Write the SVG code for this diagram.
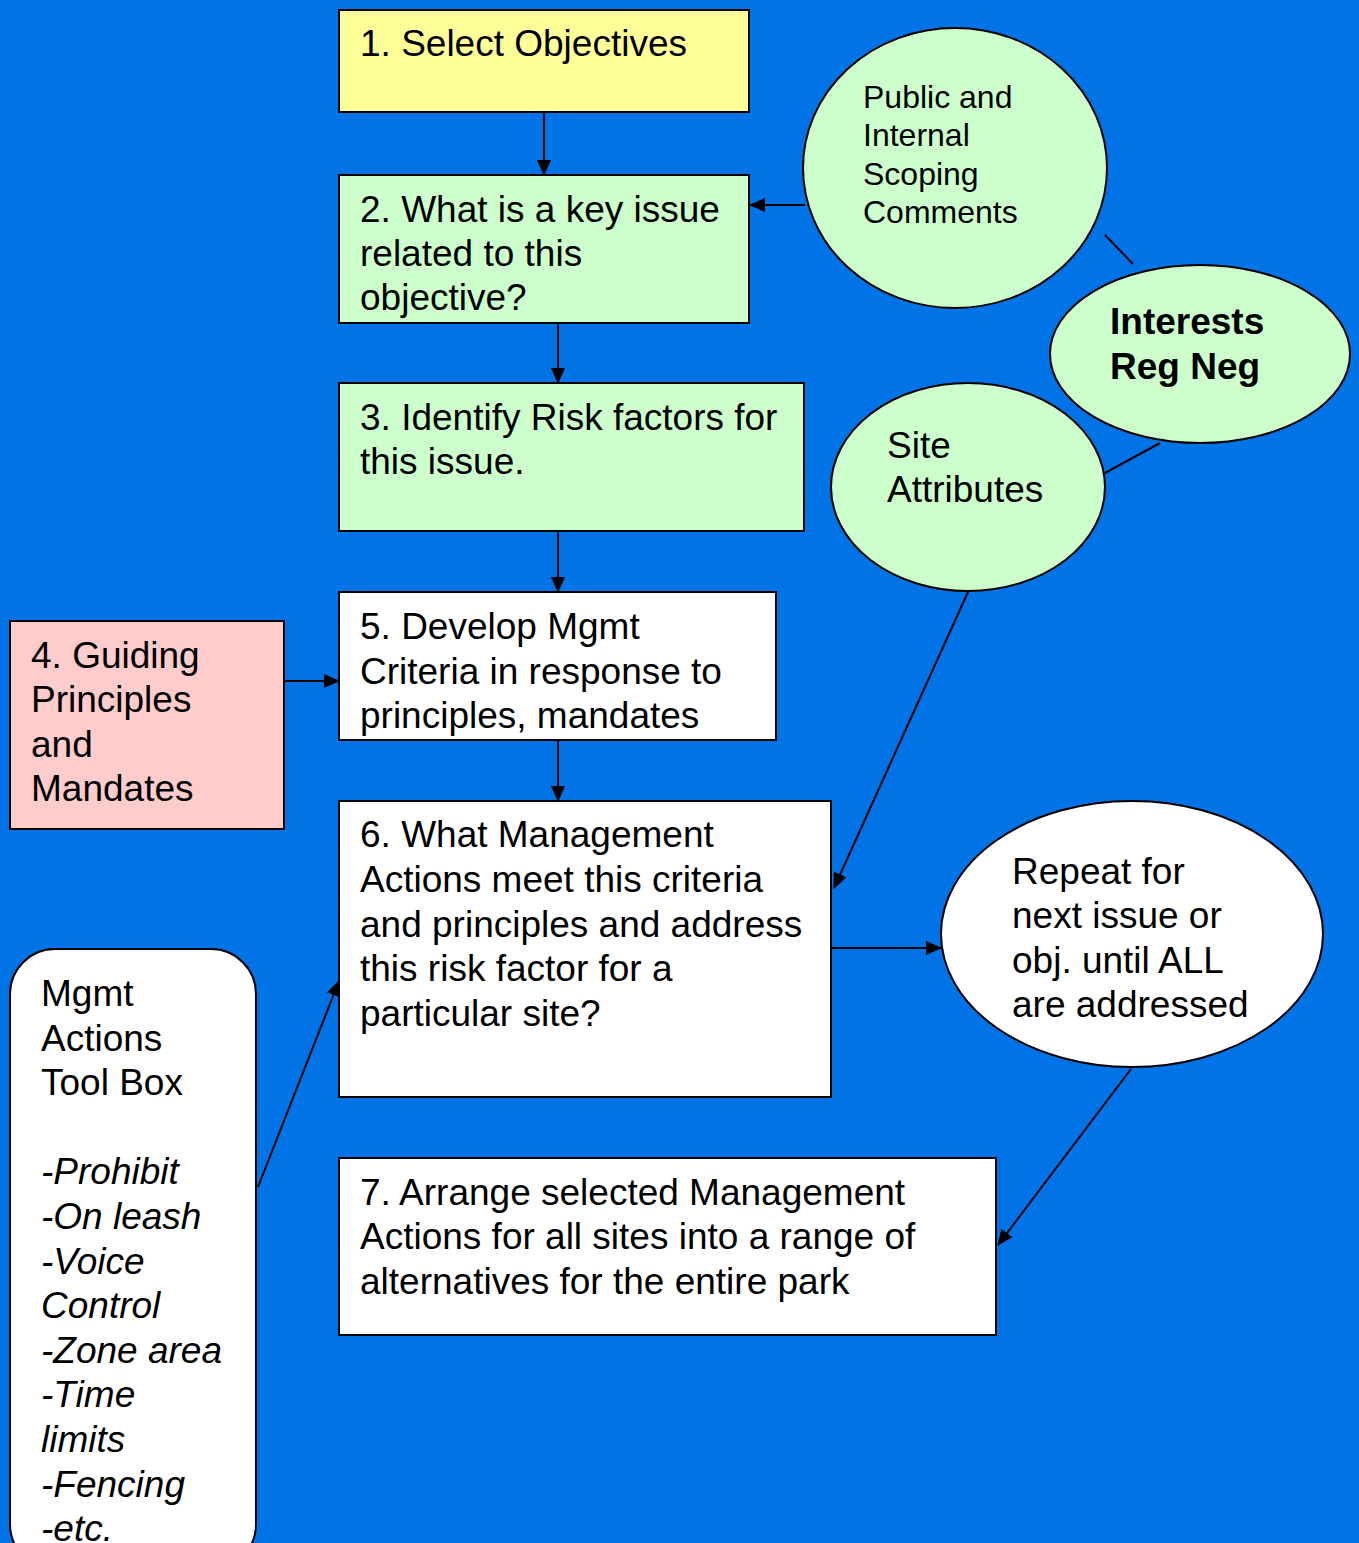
<svg xmlns="http://www.w3.org/2000/svg" width="1359" height="1543" viewBox="0 0 1359 1543">
<defs>
<style>
.n{stroke:#000;stroke-width:2}
.t{font-family:"Liberation Sans",Arial,sans-serif;font-size:37px;fill:#000}
.s{font-size:32px}
.b{font-weight:bold}
.i{font-style:italic}
.c{stroke:#000;stroke-width:2;fill:none}
</style>
<marker id="ah" markerUnits="userSpaceOnUse" markerWidth="16" markerHeight="14" refX="15" refY="7" orient="auto">
<path d="M0,0 L16,7 L0,14 Z" fill="#000"/>
</marker>
</defs>
<rect width="1359" height="1543" fill="#0073E6"/>
<g id="connectors">
<line class="c" x1="544" y1="113" x2="544" y2="175" marker-end="url(#ah)"/>
<line class="c" x1="558" y1="324" x2="558" y2="383" marker-end="url(#ah)"/>
<line class="c" x1="558" y1="532" x2="558" y2="592" marker-end="url(#ah)"/>
<line class="c" x1="558" y1="741" x2="558" y2="801" marker-end="url(#ah)"/>
<line class="c" x1="285" y1="681" x2="339" y2="681" marker-end="url(#ah)"/>
<line class="c" x1="805" y1="205" x2="750" y2="205" marker-end="url(#ah)"/>
<line class="c" x1="1105" y1="235" x2="1133" y2="264"/>
<line class="c" x1="1160" y1="443" x2="1105" y2="473"/>
<line class="c" x1="968" y1="592" x2="834" y2="888" marker-end="url(#ah)"/>
<line class="c" x1="832" y1="948" x2="941" y2="948" marker-end="url(#ah)"/>
<line class="c" x1="1131" y1="1069" x2="998" y2="1245" marker-end="url(#ah)"/>
<line class="c" x1="258" y1="1187" x2="339" y2="981" marker-end="url(#ah)"/>
</g>
<g id="n1"><rect class="n" x="339" y="10" width="410" height="102" fill="#FFFF99"/>
<text class="t" x="360" y="56">1. Select Objectives</text></g>
<g id="n2"><rect class="n" x="339" y="175" width="410" height="148" fill="#CCFFCC"/>
<text class="t" x="360" y="222">2. What is a key issue</text>
<text class="t" x="360" y="266">related to this</text>
<text class="t" x="360" y="310">objective?</text></g>
<g id="n3"><rect class="n" x="339" y="383" width="465" height="148" fill="#CCFFCC"/>
<text class="t" x="360" y="430">3. Identify Risk factors for</text>
<text class="t" x="360" y="474">this issue.</text></g>
<g id="n4"><rect class="n" x="10" y="621" width="274" height="208" fill="#FFCCCC"/>
<text class="t" x="31" y="668">4. Guiding</text>
<text class="t" x="31" y="712">Principles</text>
<text class="t" x="31" y="757">and</text>
<text class="t" x="31" y="801">Mandates</text></g>
<g id="n5"><rect class="n" x="339" y="592" width="437" height="148" fill="#FFFFFF"/>
<text class="t" x="360" y="639">5. Develop Mgmt</text>
<text class="t" x="360" y="684">Criteria in response to</text>
<text class="t" x="360" y="728">principles, mandates</text></g>
<g id="n6"><rect class="n" x="339" y="801" width="492" height="296" fill="#FFFFFF"/>
<text class="t" x="360" y="847">6. What Management</text>
<text class="t" x="360" y="892">Actions meet this criteria</text>
<text class="t" x="360" y="937">and principles and address</text>
<text class="t" x="360" y="981">this risk factor for a</text>
<text class="t" x="360" y="1026">particular site?</text></g>
<g id="n7"><rect class="n" x="339" y="1158" width="657" height="177" fill="#FFFFFF"/>
<text class="t" x="360" y="1205">7. Arrange selected Management</text>
<text class="t" x="360" y="1249">Actions for all sites into a range of</text>
<text class="t" x="360" y="1294">alternatives for the entire park</text></g>
<g id="toolbox"><rect class="n" x="10" y="949" width="246" height="620" rx="45" ry="45" fill="#FFFFFF"/>
<text class="t" x="41" y="1006">Mgmt</text>
<text class="t" x="41" y="1051">Actions</text>
<text class="t" x="41" y="1095">Tool Box</text>
<text class="t i" x="41" y="1184">-Prohibit</text>
<text class="t i" x="41" y="1229">-On leash</text>
<text class="t i" x="41" y="1274">-Voice</text>
<text class="t i" x="41" y="1318">Control</text>
<text class="t i" x="41" y="1363">-Zone area</text>
<text class="t i" x="41" y="1407">-Time</text>
<text class="t i" x="41" y="1452">limits</text>
<text class="t i" x="41" y="1497">-Fencing</text>
<text class="t i" x="41" y="1541">-etc.</text></g>
<g id="public"><ellipse class="n" cx="955" cy="168" rx="152" ry="140" fill="#CCFFCC"/>
<text class="t s" x="863" y="108">Public and</text>
<text class="t s" x="863" y="146">Internal</text>
<text class="t s" x="863" y="185">Scoping</text>
<text class="t s" x="863" y="223">Comments</text></g>
<g id="interests"><ellipse class="n" cx="1200" cy="354" rx="150" ry="89" fill="#CCFFCC"/>
<text class="t b" x="1110" y="334">Interests</text>
<text class="t b" x="1110" y="379">Reg Neg</text></g>
<g id="site"><ellipse class="n" cx="968" cy="487" rx="137" ry="104" fill="#CCFFCC"/>
<text class="t" x="887" y="458">Site</text>
<text class="t" x="887" y="502">Attributes</text></g>
<g id="repeat"><ellipse class="n" cx="1132" cy="934" rx="191" ry="133" fill="#FFFFFF"/>
<text class="t" x="1012" y="884">Repeat for</text>
<text class="t" x="1012" y="928">next issue or</text>
<text class="t" x="1012" y="973">obj. until ALL</text>
<text class="t" x="1012" y="1017">are addressed</text></g>
</svg>
